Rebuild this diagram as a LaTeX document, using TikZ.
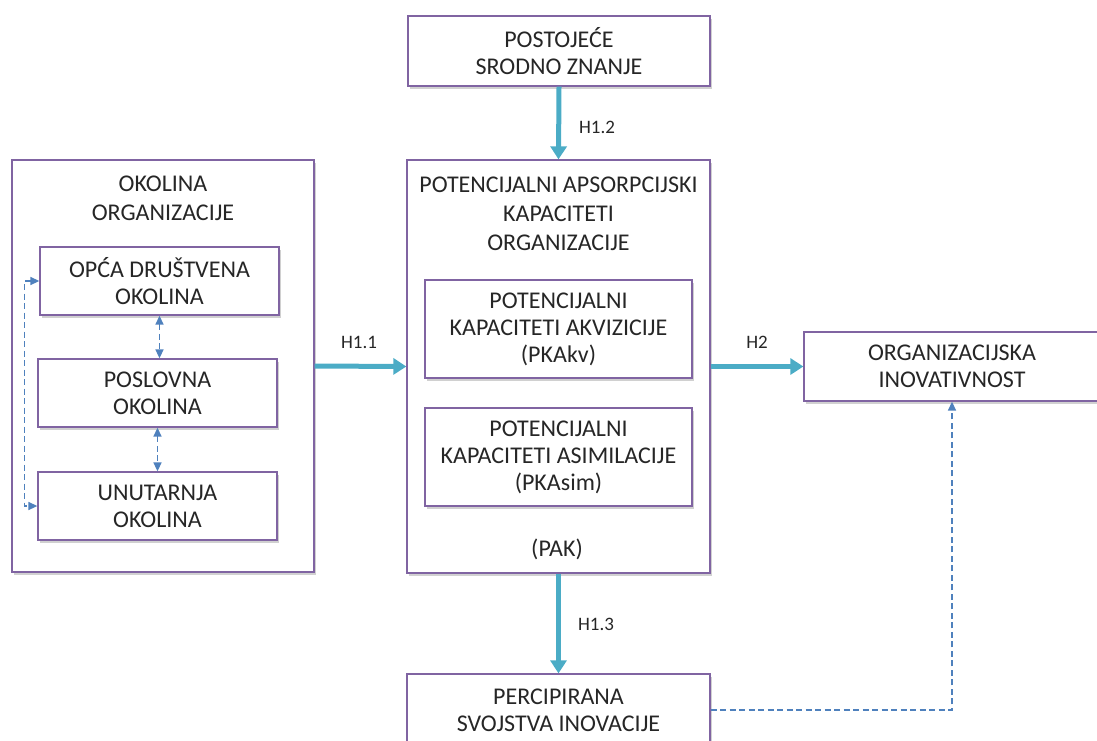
\documentclass[tikz,border=0pt]{standalone}
\usepackage{fontspec}
\setmainfont{Carlito}
\usetikzlibrary{arrows.meta,shadows}
\definecolor{boxline}{HTML}{8064A2}
\definecolor{teal}{HTML}{4BACC6}
\definecolor{dashblue}{HTML}{4F81BD}
\tikzset{
  box/.style={draw=boxline, line width=1.3pt, fill=white, align=center, inner sep=0pt,
    font=\fontsize{24}{27}\selectfont, text=black!85,
    drop shadow={shadow xshift=1.5pt, shadow yshift=-2.5pt, opacity=0.3, fill=black!60}},
  txt/.style={align=center, inner sep=0pt, font=\fontsize{24}{29}\selectfont, text=black!85},
  hlabel/.style={inner sep=0pt, font=\fontsize{19}{22}\selectfont, text=black!85},
  bigarrow/.style={draw=teal, line width=5pt, -{Triangle[length=13pt,width=16pt]}},
  dasharrow/.style={draw=dashblue, line width=1.5pt, dash pattern=on 6pt off 3.5pt,
    -{Triangle[length=9pt,width=8pt]}},
  dashboth/.style={dasharrow, {Triangle[length=9pt,width=8pt]}-{Triangle[length=9pt,width=8pt]}}
}
\begin{document}
\begin{tikzpicture}[x=1pt,y=-1pt]
\useasboundingbox (0,0) rectangle (1097,740);
\clip (0,0) rectangle (1097,740);
% boxes
\node[box, minimum width=302pt, minimum height=70pt] (post) at (559,51) {POSTOJEĆE\\SRODNO ZNANJE};
\node[box, minimum width=303pt, minimum height=413pt] (pak) at (558.5,366.5) {};
\node[txt] (paktitle) at (558.5,214) {POTENCIJALNI APSORPCIJSKI\\KAPACITETI\\ORGANIZACIJE};
\node[txt] (paklabel) at (557,549) {(PAK)};
\node[box, minimum width=302pt, minimum height=412pt] (okol) at (163,366) {};
\node[txt] (okoltitle) at (163,198) {OKOLINA\\ORGANIZACIJE};
\node[box, minimum width=239pt, minimum height=68pt] (opca) at (159.5,281) {OPĆA DRUŠTVENA\\OKOLINA};
\node[box, minimum width=239pt, minimum height=68pt] (posl) at (157.5,393) {POSLOVNA\\OKOLINA};
\node[box, minimum width=239pt, minimum height=68pt] (unut) at (157.5,506) {UNUTARNJA\\OKOLINA};
\node[box, minimum width=267pt, minimum height=98pt] (pkakv) at (558.5,329) {POTENCIJALNI\\KAPACITETI AKVIZICIJE\\(PKAkv)};
\node[box, minimum width=267pt, minimum height=98pt] (pkasim) at (558.5,457) {POTENCIJALNI\\KAPACITETI ASIMILACIJE\\(PKAsim)};
\node[box, minimum width=296pt, minimum height=69pt] (org) at (952,366.5) {ORGANIZACIJSKA\\INOVATIVNOST};
\node[box, minimum width=303pt, minimum height=72pt] (perc) at (558.5,710) {PERCIPIRANA\\SVOJSTVA INOVACIJE};
% thick arrows
\draw[bigarrow] (post.south) -- (pak.north);
\node[hlabel] (h12) at (597,127) {H1.2};
\draw[bigarrow] (okol.east) -- (pak.west);
\node[hlabel] (h11) at (359,342) {H1.1};
\draw[bigarrow] (pak.east) -- (org.west);
\node[hlabel] (h2) at (757,342) {H2};
\draw[bigarrow] (pak.south) -- (perc.north);
\node[hlabel] (h13) at (596,624) {H1.3};
% dashed connectors
\draw[dashboth] (opca.south) -- (opca.south |- posl.north);
\draw[dashboth] (posl.south) -- (posl.south |- unut.north);
\draw[dashboth] (opca.west) -- ([xshift=-15pt]opca.west) |- (unut.west);
\draw[dasharrow] (perc.east) -| (org.south);
\end{tikzpicture}
\end{document}
